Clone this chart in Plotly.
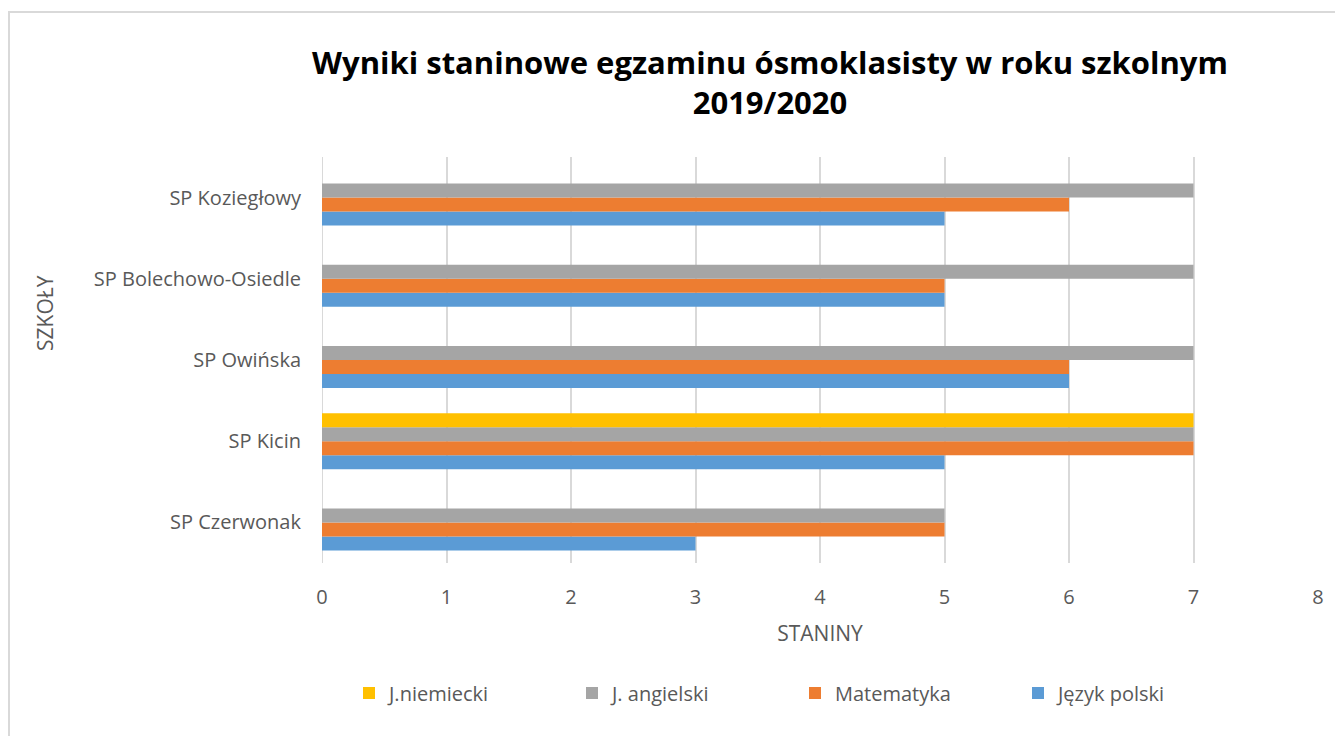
import plotly.graph_objects as go

schools = ["SP Czerwonak", "SP Kicin", "SP Owińska", "SP Bolechowo-Osiedle", "SP Koziegłowy"]
jezyk_polski = [3, 5, 6, 5, 5]
matematyka = [5, 7, 6, 5, 6]
j_angielski = [5, 7, 7, 7, 7]
j_niemiecki = [None, 7, None, None, None]

series = [
    ("Język polski", jezyk_polski, "#5B9BD5"),
    ("Matematyka", matematyka, "#ED7D31"),
    ("J. angielski", j_angielski, "#A5A5A5"),
    ("J.niemiecki", j_niemiecki, "#FFC000"),
]

OFF = 8  # page body margin
W, H = 1343, 736
L, R, T, B = 322 - OFF, 33, 157 - OFF, 181
pw, ph = W - L - R, H - T - B

def px(x):
    return (x - OFF - L) / pw

def py(y):
    return (H - B - (y - OFF)) / ph

fig = go.Figure()
for name, vals, color in series:
    fig.add_trace(go.Bar(
        y=schools, x=vals, name=name, orientation="h",
        marker=dict(color=color, line=dict(width=0)),
    ))

font_family = "Open Sans, Liberation Sans, sans-serif"

fig.update_layout(
    width=W, height=H,
    margin=dict(l=L, r=R, t=T, b=B),
    paper_bgcolor="white", plot_bgcolor="white",
    barmode="group", bargap=0.31, bargroupgap=0,
    font=dict(family=font_family, color="#595959", size=20),
    title=dict(
        text="Wyniki staninowe egzaminu ósmoklasisty w roku szkolnym<br>2019/2020",
        xref="paper", x=px(770), xanchor="center",
        yref="container", y=1 - (74 - OFF) / H, yanchor="middle",
        font=dict(family=font_family, size=31, color="black", weight="bold"),
    ),
    xaxis=dict(
        range=[0, 8], dtick=1, showgrid=True, gridcolor="#D9D9D9", gridwidth=2,
        zeroline=False, showline=False, ticks="",
        tickfont=dict(size=20, color="#595959"),
        ticklabelstandoff=20,
        title=dict(text="STANINY", font=dict(size=21, color="#595959"), standoff=17),
    ),
    yaxis=dict(
        showgrid=False, zeroline=False, showline=False, ticks="", ticklen=0,
        tickfont=dict(size=20, color="#595959"),
        ticklabelstandoff=20,
    ),
    legend=dict(
        orientation="h", traceorder="reversed",
        x=px(795), xanchor="center", y=py(693), yanchor="middle",
        entrywidth=178, entrywidthmode="pixels",
        font=dict(size=20, color="#595959"),
        itemwidth=30,
    ),
    showlegend=True,
    annotations=[
        dict(text="SZKOŁY", xref="paper", yref="paper", x=px(45), y=py(313),
             textangle=-90, showarrow=False, xanchor="center", yanchor="middle",
             font=dict(size=21, color="#595959")),
    ],
    shapes=[
        dict(type="rect", xref="paper", yref="paper",
             x0=px(9), x1=px(1400), y0=py(12), y1=py(800),
             line=dict(color="#D9D9D9", width=2), fillcolor="rgba(0,0,0,0)", layer="below"),
        dict(type="line", xref="x", yref="paper", x0=0, x1=0, y0=0, y1=1,
             line=dict(color="#D9D9D9", width=2), layer="below"),
    ],
)

fig.write_html("out.html")
